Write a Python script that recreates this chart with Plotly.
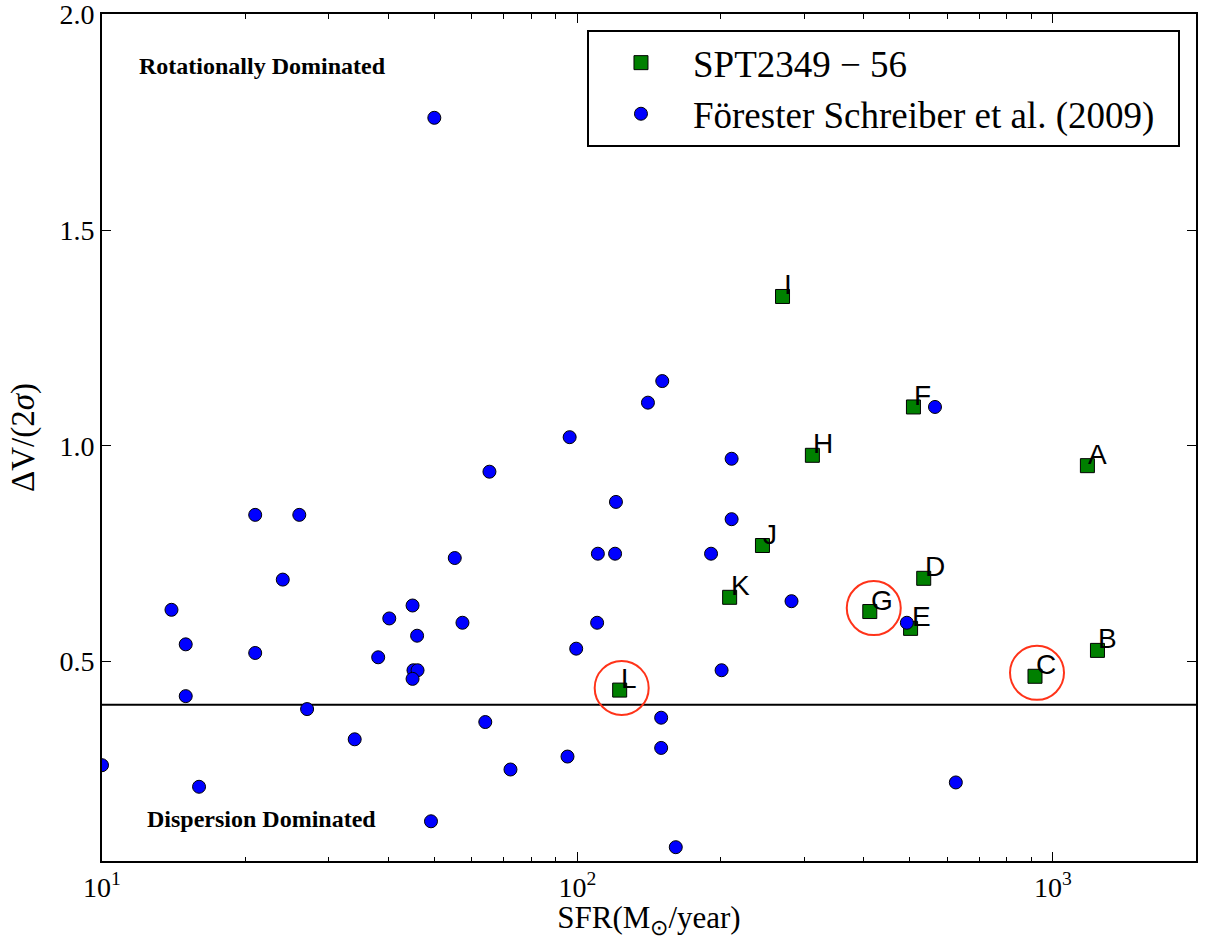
import numpy as np
import plotly.graph_objects as go

# SPT2349-56 components
spt_labels = ["A", "B", "C", "D", "E", "F", "G", "H", "I", "J", "K", "L"]
spt_sfr = [1182, 1241, 917, 535, 502, 509, 412, 312, 270, 245, 209, 122.7]
spt_ratio = [0.954, 0.526, 0.466, 0.693, 0.577, 1.09, 0.616, 0.978, 1.346, 0.769, 0.649, 0.434]

# Highlighted components (rings)
ring_sfr = [123.9, 420, 926]
ring_ratio = [0.439, 0.624, 0.474]

# Förster Schreiber et al. (2009) SINS sample
fs_sfr = [10.0, 14.0, 15.0, 15.0, 16.0, 21.0, 21.0, 24.0, 26.0, 27.0,
          34.0, 38.1, 40.2, 45.0, 45.2, 46.1, 45.0, 46.0, 49.2, 50.0,
          55.2, 57.3, 64.0, 65.3, 72.3, 95.3, 96.3, 99.4, 110.4, 110.0,
          120.5, 120.0, 140.7, 150.8, 150.0, 150.0, 161.0, 191.0, 201.0, 211.0,
          211.0, 282.0, 493.0, 565.0, 625.0]
fs_ratio = [0.26, 0.62, 0.54, 0.42, 0.21, 0.84, 0.52, 0.69, 0.84, 0.39,
            0.32, 0.51, 0.60, 0.63, 0.48, 0.48, 0.46, 0.56, 0.13, 1.76,
            0.74, 0.59, 0.36, 0.94, 0.25, 0.28, 1.02, 0.53, 0.75, 0.59,
            0.87, 0.75, 1.10, 1.15, 0.37, 0.30, 0.07, 0.75, 0.48, 0.97,
            0.83, 0.64, 0.59, 1.09, 0.22]

divide_ratio = 0.4
x_range = [10, 2000]
y_range = [0.038, 2.0005]

x_major = [10, 100, 1000]
x_major_text = ["10<sup>1</sup>", "10<sup>2</sup>", "10<sup>3</sup>"]
x_minor = [m * d for d in (10, 100, 1000) for m in range(2, 10) if m * d <= 2000]
y_major = [0.5, 1.0, 1.5, 2.0]
y_major_text = ["0.5", "1.0", "1.5", "2.0"]

serif = "Liberation Serif"
sans = "Liberation Sans"

fig = go.Figure()

fig.add_trace(go.Scatter(
    x=spt_sfr, y=spt_ratio, mode="markers", name="SPT2349 − 56",
    legendgroup="spt",
    marker=dict(symbol="square", size=14, color="#008000",
                line=dict(color="black", width=1)),
))
fig.add_trace(go.Scatter(
    x=fs_sfr, y=fs_ratio, mode="markers",
    name="Förester Schreiber et al. (2009)\u00a0\u00a0",
    legendgroup="fs",
    marker=dict(symbol="circle", size=13, color="#0000ff",
                line=dict(color="black", width=1)),
))
fig.add_trace(go.Scatter(
    x=ring_sfr, y=ring_ratio, mode="markers", showlegend=False,
    marker=dict(symbol="circle-open", size=54, color="#ff3319",
                line=dict(color="#ff3319", width=2)),
))

# component letters, anchored at each square
for lab, xv, yv in zip(spt_labels, spt_sfr, spt_ratio):
    fig.add_annotation(x=np.log10(xv), y=yv, text=lab, showarrow=False,
                       xanchor="left", yanchor="bottom", yshift=-6, xshift=-1,
                       font=dict(family=sans, size=28, color="black"))

fig.add_shape(type="line", xref="paper", yref="y", x0=0, x1=1,
              y0=divide_ratio, y1=divide_ratio,
              line=dict(color="black", width=2), layer="below")

fig.add_annotation(xref="paper", yref="y", x=0.032, y=1.879,
                   text="<b>Rotationally Dominated</b>", showarrow=False,
                   xanchor="left", yanchor="middle",
                   font=dict(family=serif, size=24, color="black"))
fig.add_annotation(xref="paper", yref="y", x=0.039, y=0.136,
                   text="<b>Dispersion Dominated</b>", showarrow=False,
                   xanchor="left", yanchor="middle",
                   font=dict(family=serif, size=24, color="black"))

fig.update_xaxes(
    type="log", range=[np.log10(x_range[0]), np.log10(x_range[1])],
    tickvals=x_major, ticktext=x_major_text,
    ticks="inside", ticklen=9, tickwidth=1, tickcolor="black",
    minor=dict(tickvals=x_minor, ticks="inside", ticklen=4.5, tickwidth=1,
               tickcolor="black"),
    showline=True, linewidth=2, linecolor="black", mirror="ticks",
    showgrid=False, zeroline=False, automargin=False,
    tickfont=dict(family=serif, size=28, color="black"),
    ticklabeloverflow="allow",
    title=dict(text="SFR(M<sub>⊙</sub>/year)", standoff=12,
               font=dict(family=serif, size=31, color="black")),
)
fig.update_yaxes(
    range=y_range, tickvals=y_major, ticktext=y_major_text,
    ticks="inside", ticklen=9, tickwidth=1, tickcolor="black",
    showline=True, linewidth=2, linecolor="black", mirror="ticks",
    showgrid=False, zeroline=False, automargin=False,
    tickfont=dict(family=serif, size=28, color="black"),
    ticklabeloverflow="allow",
    title=dict(text="ΔV/(2<i>σ</i>)", standoff=15,
               font=dict(family=serif, size=33, color="black")),
)

fig.update_layout(
    width=1215, height=940,
    margin=dict(l=102, r=19, t=14, b=79),
    paper_bgcolor="white", plot_bgcolor="white",
    showlegend=True,
    legend=dict(x=0.4433, y=0.981, xanchor="left", yanchor="top",
                bgcolor="white", bordercolor="black", borderwidth=2,
                font=dict(family=serif, size=37, color="black"),
                itemwidth=94, tracegroupgap=0),
)

fig.write_html("out.html")
